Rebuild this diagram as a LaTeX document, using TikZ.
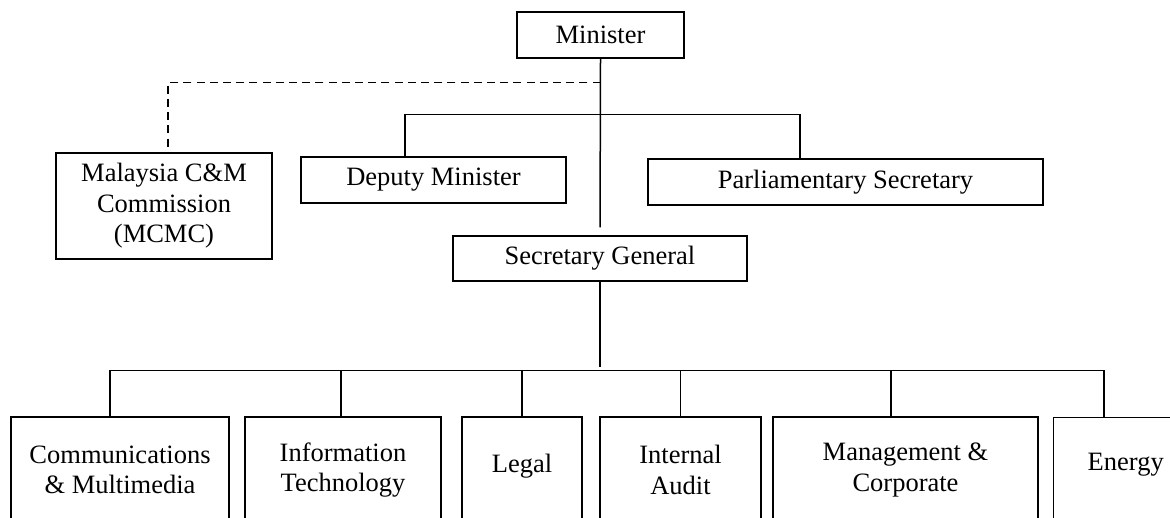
\documentclass[tikz,border=0pt]{standalone}
\usepackage{fontspec}
\setmainfont{Liberation Serif}
\begin{document}
\begin{tikzpicture}[x=0.5pt,y=-0.5pt,
  box/.style={draw=black, line width=0.7pt, inner sep=0pt, align=center,
    font=\fontsize{13.25}{15.25}\selectfont},
  link/.style={draw=black, line width=0.75pt},
  dashlink/.style={draw=black, line width=0.75pt, dash pattern=on 4pt off 2.6pt}]
\useasboundingbox (0,0) rectangle (1170,518);
\fill[white] (0,0) rectangle (1170,518);
\clip (0,0) rectangle (1170,518);

% upper nodes
\node[box, minimum width=83.5pt, minimum height=23pt] (min) at (600.5,35) {Minister};
\node[box, minimum width=108pt, minimum height=53pt] (mcmc) at (164,206) {Malaysia C\&M\\Commission\\(MCMC)};
\node[box, minimum width=132.5pt, minimum height=23pt] (dep) at (433.5,180) {Deputy Minister};
\node[box, minimum width=197.5pt, minimum height=23pt] (par) at (845.5,182) {Parliamentary Secretary};
\node[box, minimum width=147pt, minimum height=22.5pt] (sg) at (600,258.5) {Secretary General};

% lower row
\node[box, minimum width=109pt, minimum height=53pt] (b1) at (120,470) {Communications\\\& Multimedia};
\node[box, minimum width=98pt, minimum height=53pt] (b2) at (343,470) {Information\\Technology};
\node[box, minimum width=60pt, minimum height=53pt, text depth=7pt] (b3) at (522,470) {Legal};
\node[box, minimum width=80.5pt, minimum height=53pt] (b4) at (680.5,470) {Internal\\Audit};
\node[box, minimum width=132.5pt, minimum height=53pt] (b5) at (905.5,470) {Management \&\\Corporate};
\node[box, anchor=north west, minimum width=100pt, text width=100pt, align=left,
  minimum height=53pt, text depth=9pt] (b6) at (1053,417) {\hspace*{17pt}Energy};

% junction points
\coordinate (dj) at ([yshift=-12pt]min.south);
\coordinate (sj) at ([yshift=-28pt]min.south);
\coordinate (bj) at ([yshift=-44.5pt]sg.south);

% connectors
\draw[link, shorten >=4pt] (min.south) -- (sg.north);
\draw[dashlink] (dj) -| ([xshift=2pt]mcmc.north);
\draw[link] (sj) -| ([xshift=-14.25pt]dep.north);
\draw[link] (sj) -| ([xshift=-22.75pt]par.north);
\draw[link, shorten >=2pt] (sg.south) -- (bj);
\draw[link] (bj) -| ([xshift=-5pt]b1.north);
\draw[link] (bj) -| ([xshift=-1pt]b2.north);
\draw[link] (bj) -| (b3.north);
\draw[link] (bj) -| (b4.north);
\draw[link] (bj) -| ([xshift=-7.25pt]b5.north);
\draw[link] (bj) -| ([xshift=25.5pt]b6.north west);
\end{tikzpicture}
\end{document}
